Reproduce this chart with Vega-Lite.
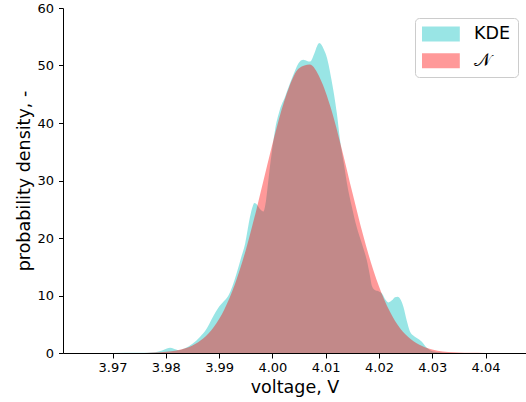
{
  "$schema": "https://vega.github.io/schema/vega-lite/v6.json",
  "autosize": {"type": "none"},
  "padding": {"left": 63, "top": 8, "right": 0, "bottom": 49},
  "width": 463,
  "height": 345,
  "background": "white",
  "config": {
    "view": {"stroke": null},
    "font": "DejaVu Sans",
    "axis": {"grid": false, "domainColor": "black", "tickColor": "black", "labelColor": "black", "titleColor": "black", "labelFont": "DejaVu Sans", "titleFont": "DejaVu Sans", "titleFontWeight": "normal", "labelFontSize": 13, "titleFontSize": 17.5, "domainWidth": 1, "tickWidth": 1}
  },
  "datasets": {
    "kde": [
      {"x": 3.9607, "y": 0, "series": "KDE"},
      {"x": 3.970, "y": 0.01, "series": "KDE"},
      {"x": 3.975, "y": 0.03, "series": "KDE"},
      {"x": 3.978, "y": 0.15, "series": "KDE"},
      {"x": 3.9793, "y": 0.45, "series": "KDE"},
      {"x": 3.9802, "y": 0.8, "series": "KDE"},
      {"x": 3.9808, "y": 0.9, "series": "KDE"},
      {"x": 3.9815, "y": 0.75, "series": "KDE"},
      {"x": 3.9824, "y": 0.5, "series": "KDE"},
      {"x": 3.9835, "y": 0.8, "series": "KDE"},
      {"x": 3.985, "y": 1.6, "series": "KDE"},
      {"x": 3.9864, "y": 2.8, "series": "KDE"},
      {"x": 3.9875, "y": 4.0, "series": "KDE"},
      {"x": 3.9889, "y": 6.4, "series": "KDE"},
      {"x": 3.9898, "y": 7.8, "series": "KDE"},
      {"x": 3.9908, "y": 8.9, "series": "KDE"},
      {"x": 3.9917, "y": 9.9, "series": "KDE"},
      {"x": 3.9925, "y": 11.6, "series": "KDE"},
      {"x": 3.9933, "y": 13.9, "series": "KDE"},
      {"x": 3.9941, "y": 16.5, "series": "KDE"},
      {"x": 3.9949, "y": 19.1, "series": "KDE"},
      {"x": 3.9958, "y": 23.7, "series": "KDE"},
      {"x": 3.9963, "y": 25.5, "series": "KDE"},
      {"x": 3.9966, "y": 26.1, "series": "KDE"},
      {"x": 3.9970, "y": 25.9, "series": "KDE"},
      {"x": 3.9977, "y": 25.0, "series": "KDE"},
      {"x": 3.9983, "y": 24.6, "series": "KDE"},
      {"x": 3.9988, "y": 26.5, "series": "KDE"},
      {"x": 3.9993, "y": 30.5, "series": "KDE"},
      {"x": 3.9999, "y": 35.0, "series": "KDE"},
      {"x": 4.0005, "y": 38.8, "series": "KDE"},
      {"x": 4.0014, "y": 42.3, "series": "KDE"},
      {"x": 4.0024, "y": 44.6, "series": "KDE"},
      {"x": 4.0033, "y": 46.9, "series": "KDE"},
      {"x": 4.0043, "y": 49.2, "series": "KDE"},
      {"x": 4.0049, "y": 50.4, "series": "KDE"},
      {"x": 4.0058, "y": 51.0, "series": "KDE"},
      {"x": 4.0065, "y": 50.8, "series": "KDE"},
      {"x": 4.0071, "y": 50.7, "series": "KDE"},
      {"x": 4.0078, "y": 51.9, "series": "KDE"},
      {"x": 4.0084, "y": 53.4, "series": "KDE"},
      {"x": 4.0088, "y": 53.9, "series": "KDE"},
      {"x": 4.0092, "y": 53.6, "series": "KDE"},
      {"x": 4.0097, "y": 52.7, "series": "KDE"},
      {"x": 4.0102, "y": 51.5, "series": "KDE"},
      {"x": 4.0111, "y": 47.5, "series": "KDE"},
      {"x": 4.0121, "y": 41.7, "series": "KDE"},
      {"x": 4.0127, "y": 37.0, "series": "KDE"},
      {"x": 4.0134, "y": 33.0, "series": "KDE"},
      {"x": 4.0140, "y": 29.5, "series": "KDE"},
      {"x": 4.0149, "y": 25.5, "series": "KDE"},
      {"x": 4.0158, "y": 22.0, "series": "KDE"},
      {"x": 4.0168, "y": 19.0, "series": "KDE"},
      {"x": 4.0177, "y": 16.2, "series": "KDE"},
      {"x": 4.0183, "y": 13.5, "series": "KDE"},
      {"x": 4.0187, "y": 11.6, "series": "KDE"},
      {"x": 4.0193, "y": 10.9, "series": "KDE"},
      {"x": 4.0200, "y": 10.7, "series": "KDE"},
      {"x": 4.0206, "y": 10.3, "series": "KDE"},
      {"x": 4.0212, "y": 9.3, "series": "KDE"},
      {"x": 4.0218, "y": 8.8, "series": "KDE"},
      {"x": 4.0225, "y": 9.2, "series": "KDE"},
      {"x": 4.0230, "y": 9.7, "series": "KDE"},
      {"x": 4.0235, "y": 9.8, "series": "KDE"},
      {"x": 4.0240, "y": 9.4, "series": "KDE"},
      {"x": 4.0246, "y": 8.0, "series": "KDE"},
      {"x": 4.0252, "y": 5.7, "series": "KDE"},
      {"x": 4.0258, "y": 3.8, "series": "KDE"},
      {"x": 4.0265, "y": 3.0, "series": "KDE"},
      {"x": 4.0271, "y": 2.6, "series": "KDE"},
      {"x": 4.0280, "y": 2.0, "series": "KDE"},
      {"x": 4.0290, "y": 0.9, "series": "KDE"},
      {"x": 4.0302, "y": 0.25, "series": "KDE"},
      {"x": 4.0320, "y": 0.06, "series": "KDE"},
      {"x": 4.0360, "y": 0.02, "series": "KDE"},
      {"x": 4.0476, "y": 0.01, "series": "KDE"}
    ],
    "norm": [
      {"x": 3.9607, "y": 0, "series": "𝒩"},
      {"x": 3.970, "y": 0.001, "series": "𝒩"},
      {"x": 3.975, "y": 0.02, "series": "𝒩"},
      {"x": 3.977, "y": 0.06, "series": "𝒩"},
      {"x": 3.979, "y": 0.13, "series": "𝒩"},
      {"x": 3.981, "y": 0.30, "series": "𝒩"},
      {"x": 3.983, "y": 0.65, "series": "𝒩"},
      {"x": 3.985, "y": 1.32, "series": "𝒩"},
      {"x": 3.987, "y": 2.52, "series": "𝒩"},
      {"x": 3.989, "y": 4.53, "series": "𝒩"},
      {"x": 3.991, "y": 7.63, "series": "𝒩"},
      {"x": 3.993, "y": 12.06, "series": "𝒩"},
      {"x": 3.995, "y": 17.89, "series": "𝒩"},
      {"x": 3.997, "y": 24.93, "series": "𝒩"},
      {"x": 3.999, "y": 32.55, "series": "𝒩"},
      {"x": 4.001, "y": 39.89, "series": "𝒩"},
      {"x": 4.003, "y": 45.88, "series": "𝒩"},
      {"x": 4.005, "y": 49.52, "series": "𝒩"},
      {"x": 4.007, "y": 50.16, "series": "𝒩"},
      {"x": 4.009, "y": 47.67, "series": "𝒩"},
      {"x": 4.011, "y": 42.51, "series": "𝒩"},
      {"x": 4.013, "y": 35.57, "series": "𝒩"},
      {"x": 4.015, "y": 27.94, "series": "𝒩"},
      {"x": 4.017, "y": 20.59, "series": "𝒩"},
      {"x": 4.019, "y": 14.24, "series": "𝒩"},
      {"x": 4.021, "y": 9.24, "series": "𝒩"},
      {"x": 4.023, "y": 5.62, "series": "𝒩"},
      {"x": 4.025, "y": 3.21, "series": "𝒩"},
      {"x": 4.027, "y": 1.72, "series": "𝒩"},
      {"x": 4.029, "y": 0.87, "series": "𝒩"},
      {"x": 4.031, "y": 0.41, "series": "𝒩"},
      {"x": 4.033, "y": 0.18, "series": "𝒩"},
      {"x": 4.035, "y": 0.08, "series": "𝒩"},
      {"x": 4.037, "y": 0.03, "series": "𝒩"},
      {"x": 4.040, "y": 0.005, "series": "𝒩"},
      {"x": 4.0476, "y": 0, "series": "𝒩"}
    ]
  },
  "encoding": {
    "x": {"field": "x", "type": "quantitative", "scale": {"domain": [3.9607, 4.0476], "nice": false, "zero": false},
      "axis": {"title": "voltage, V", "values": [3.97, 3.98, 3.99, 4.0, 4.01, 4.02, 4.03, 4.04], "format": ".2f", "tickSize": 5, "labelPadding": 3, "titleY": 39, "titleBaseline": "alphabetic"}},
    "y": {"field": "y", "type": "quantitative", "scale": {"domain": [0, 60], "nice": false},
      "axis": {"title": "probability density, -", "values": [0, 10, 20, 30, 40, 50, 60], "tickSize": 4.5, "labelPadding": 5, "titleX": -34, "titleBaseline": "alphabetic"}}
  },
  "layer": [
    {
      "data": {"name": "kde"},
      "mark": {"type": "area", "opacity": 0.4, "interpolate": "monotone", "clip": true},
      "encoding": {
        "color": {"field": "series", "type": "nominal",
          "scale": {"domain": ["KDE", "𝒩"], "range": ["#00bfbf", "#ff0000"]},
          "legend": {"orient": "none", "legendX": 352, "legendY": 10, "title": null,
            "symbolType": "M-1,-0.84H3.2V0.84H-1Z", "symbolSize": 324, "symbolOpacity": 0.4, "symbolStrokeWidth": 0,
            "labelFontSize": 17.5, "labelFont": "DejaVu Sans", "labelColor": "black", "labelOffset": 34,
            "padding": 7, "rowPadding": 8.7, "fillColor": "white", "strokeColor": "#cccccc", "cornerRadius": 4}}
      }
    },
    {
      "data": {"name": "norm"},
      "mark": {"type": "area", "opacity": 0.4, "interpolate": "monotone", "clip": true},
      "encoding": {
        "color": {"field": "series", "type": "nominal"}
      }
    }
  ]
}
